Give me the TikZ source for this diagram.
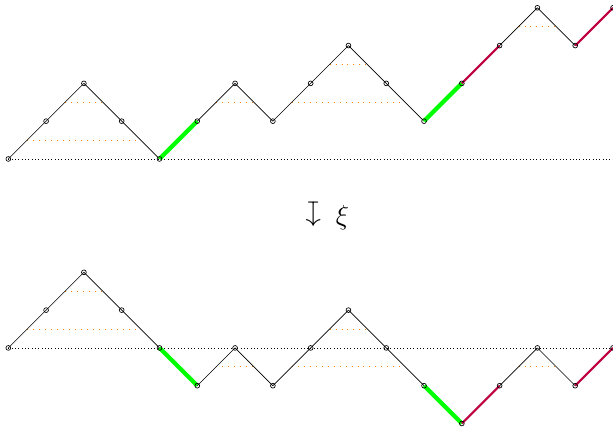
\documentclass[tikz,border=0pt]{standalone}
\usepackage{graphicx}
\begin{document}
\begin{tikzpicture}[
  baseline line/.style={dotted, line width=0.5pt, black},
  chord/.style={orange, loosely dotted, line width=0.5pt},
  plain step/.style={black, line width=0.5pt},
  green step/.style={green, line width=3.2pt},
  red step/.style={purple, line width=1.6pt},
  vtx/.style={circle, draw=black, line width=0.5pt, inner sep=0pt, minimum size=3.6pt}
]
\useasboundingbox (-0.22,-7.09) rectangle (16,4.206);
% baselines
\coordinate (tl) at (0,0); \coordinate (tr) at (16,0);
\coordinate (bl) at (0,-5); \coordinate (br) at (16,-5);
\draw[baseline line] (tl) -- (tr);
\draw[baseline line] (bl) -- (br);
% vertices
\foreach \h [count=\i from 0] in {0,1,2,1,0,1,2,1,2,3,2,1,2,3,4,3,4}
  \coordinate (t\i) at (\i,\h);
\foreach \h [count=\i from 0] in {0,1,2,1,0,-1,0,-1,0,1,0,-1,-2,-1,0,-1,0}
  \coordinate (b\i) at (\i,-5+\h);
% chords
\foreach \a/\b/\y in {0.5/3.5/0.5, 1.5/2.5/1.5, 5.5/6.5/1.5, 7.5/10.5/1.5, 8.5/9.5/2.5, 13.5/14.5/3.5}
  \draw[chord] (\a,\y) -- (\b,\y);
\foreach \a/\b/\y in {0.5/3.5/-4.5, 1.5/2.5/-3.5, 5.5/6.5/-5.5, 7.5/10.5/-5.5, 8.5/9.5/-4.5, 13.5/14.5/-5.5}
  \draw[chord] (\a,\y) -- (\b,\y);
% steps
\foreach \i/\s in {0/plain,1/plain,2/plain,3/plain,4/green,5/plain,6/plain,7/plain,8/plain,9/plain,10/plain,11/green,12/red,13/plain,14/plain,15/red}{
  \pgfmathtruncatemacro{\j}{\i+1}
  \draw[\s\space step] (t\i) -- (t\j);
  \draw[\s\space step] (b\i) -- (b\j);
}
% vertex circles
\foreach \i in {0,...,16}{
  \node[vtx] (nt\i) at (t\i) {};
  \node[vtx] (nb\i) at (b\i) {};
}
% map label
\node[font=\huge, inner sep=0pt] (map) at (8.02,-1.455) {\rotatebox[origin=c]{-90}{$\mapsto$}};
\node[font=\huge, inner sep=0pt] (xi) at (8.84,-1.55) {$\xi$};
\end{tikzpicture}
\end{document}
